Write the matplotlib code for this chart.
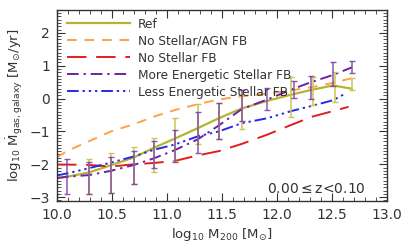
import matplotlib
matplotlib.use("Agg")
import matplotlib.pyplot as plt
import numpy as np
from matplotlib.ticker import MultipleLocator

# ---- data ----
x_line = [10.0, 10.09, 10.29, 10.49, 10.7, 10.88, 11.07, 11.28, 11.47, 11.68, 11.91, 12.13, 12.32, 12.51, 12.68]
ref_y = [-2.42, -2.38, -2.25, -2.03, -1.79, -1.50, -1.22, -0.90, -0.60, -0.30, -0.07, 0.12, 0.27, 0.40, 0.30]
nofb_y = [-1.79, -1.60, -1.30, -1.00, -0.78, -0.55, -0.35, -0.17, -0.03, 0.07, 0.15, 0.25, 0.35, 0.48, 0.62]
x_red = [10.0, 10.09, 10.29, 10.49, 10.7, 10.88, 11.07, 11.28, 11.47, 11.68, 11.91, 12.13, 12.32, 12.51, 12.65]
nostellar_y = [-2.01, -2.01, -2.02, -2.07, -2.00, -1.96, -1.90, -1.73, -1.60, -1.38, -1.10, -0.80, -0.55, -0.38, -0.25]
x_purple = [10.0, 10.09, 10.29, 10.49, 10.7, 10.88, 11.07, 11.28, 11.47, 11.68, 11.91, 12.15, 12.31, 12.51, 12.68]
more_y = [-2.42, -2.38, -2.33, -2.20, -2.02, -1.82, -1.57, -1.24, -0.82, -0.32, -0.03, 0.30, 0.50, 0.72, 0.95]
x_blue = [10.0, 10.09, 10.29, 10.49, 10.7, 10.88, 11.07, 11.28, 11.47, 11.68, 11.91, 12.13, 12.32, 12.51, 12.63]
less_y = [-2.34, -2.28, -2.12, -1.95, -1.76, -1.56, -1.40, -1.15, -1.00, -0.75, -0.60, -0.38, -0.22, -0.05, 0.17]

# error bars (low, high)
ref_bx = [10.29, 10.49, 10.7, 10.88, 11.07, 11.28, 11.47, 11.68, 12.13, 12.33, 12.53, 12.68]
ref_lo = [-2.90, -2.87, -2.60, -2.25, -1.90, -1.39, -1.22, -0.93, -0.57, -0.21, -0.10, 0.27]
ref_hi = [-1.84, -1.66, -1.46, -1.19, -0.60, -0.18, -0.13, 0.15, 0.66, 0.66, 0.80, 0.63]
more_bx = [10.09, 10.29, 10.49, 10.7, 10.88, 11.07, 11.28, 11.47, 11.68, 11.91, 12.15, 12.31, 12.51, 12.68]
more_lo = [-2.90, -2.90, -2.87, -2.60, -2.12, -1.94, -1.67, -1.22, -0.69, -0.36, 0.03, -0.02, 0.39, 0.78]
more_hi = [-1.84, -1.94, -1.79, -1.61, -1.28, -0.95, -0.42, -0.13, 0.25, 0.33, 0.55, 0.68, 1.11, 1.14]

labels = ["Ref", "No Stellar/AGN FB", "No Stellar FB", "More Energetic Stellar FB", "Less Energetic Stellar FB"]

plt.rcParams['font.family'] = ['DejaVu Sans']
fig = plt.figure(figsize=(4.07, 2.47), dpi=100)
ax = fig.add_axes([0.140, 0.186, 0.811, 0.774])

c_ref = '#b4b432'
c_org = '#ffa04a'
c_red = '#e01e1e'
c_pur = '#6a22a8'
c_blu = '#2828e6'
tc = '#333333'

ax.plot(x_line, ref_y, color=c_ref, lw=1.6, label=labels[0])
ax.plot(x_line, nofb_y, color=c_org, lw=1.4, dashes=(5, 4), label=labels[1])
ax.plot(x_red, nostellar_y, color=c_red, lw=1.4, dashes=(10, 5), label=labels[2])
ax.plot(x_purple, more_y, color=c_pur, lw=1.4, dashes=(6, 2.5, 1.2, 2.5), label=labels[3])
ax.plot(x_blue, less_y, color=c_blu, lw=1.4, dashes=(6, 2, 1.2, 2, 1.2, 2, 1.2, 2), label=labels[4])

rc = (np.array(ref_lo) + np.array(ref_hi)) / 2
re = (np.array(ref_hi) - np.array(ref_lo)) / 2
ax.errorbar(ref_bx, rc, yerr=re, fmt='none', ecolor='#c8c850', elinewidth=1.1, capsize=2.5, capthick=1.0)
mc = (np.array(more_lo) + np.array(more_hi)) / 2
me = (np.array(more_hi) - np.array(more_lo)) / 2
ax.errorbar(more_bx, mc, yerr=me, fmt='none', ecolor='#7a3aa0', elinewidth=1.1, capsize=2.5, capthick=1.0, alpha=0.85)

ax.set_xlim(10.0, 13.0)
ax.set_ylim(-3.12, 2.7)
ax.xaxis.set_major_locator(MultipleLocator(0.5))
ax.xaxis.set_minor_locator(MultipleLocator(0.1))
ax.yaxis.set_major_locator(MultipleLocator(1))
ax.yaxis.set_minor_locator(MultipleLocator(0.1))
ax.tick_params(which='both', direction='in', top=True, right=True, colors=tc, labelcolor=tc)
ax.tick_params(which='major', length=6, width=0.8, labelsize=10, pad=5)
ax.tick_params(which='minor', length=3, width=0.6)
ax.xaxis.set_major_formatter(matplotlib.ticker.FormatStrFormatter('%.1f'))
for s in ax.spines.values():
    s.set_linewidth(1.0)
    s.set_color(tc)

ax.set_xlabel(r'log$_{10}$ M$_{200}$ [M$_{\odot}$]', fontsize=9.5, color=tc, labelpad=3)
ax.set_ylabel(r'log$_{10}$ $\dot{\rm M}_{\rm gas,galaxy}$ [M$_{\odot}$/yr]', fontsize=9.5, color=tc, labelpad=3)

leg = ax.legend(loc='upper left', frameon=False, fontsize=8.7, handlelength=5.2, handletextpad=0.7,
                labelspacing=0.33, borderaxespad=0.0, bbox_to_anchor=(0.015, 0.985))
for t in leg.get_texts():
    t.set_color(tc)

ax.text(0.935, 0.025, r'0.00$\leq$z<0.10', transform=ax.transAxes, ha='right', va='bottom', fontsize=10, color=tc)

fig.savefig('out.png', dpi=100)
